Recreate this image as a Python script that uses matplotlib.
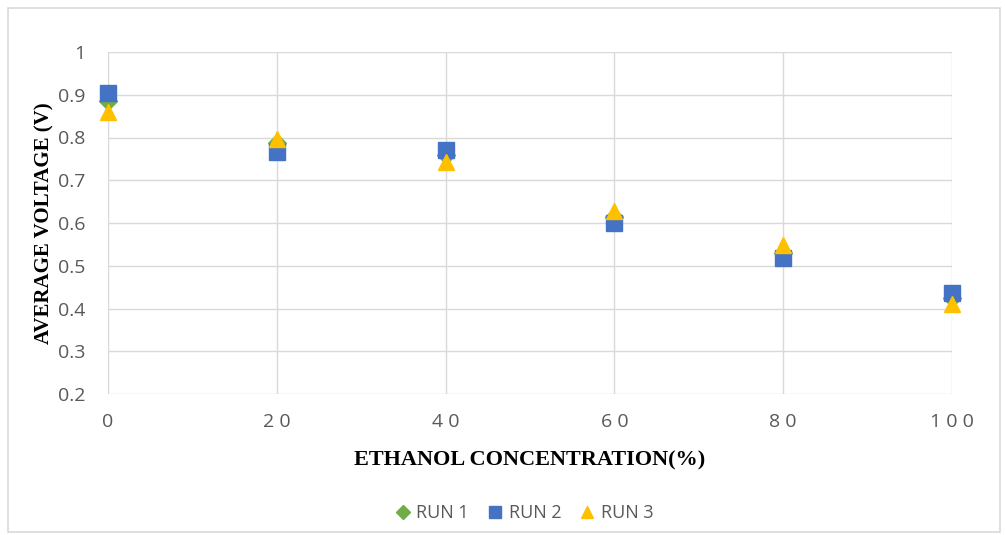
import numpy as np
import matplotlib.pyplot as plt
from matplotlib.patches import Rectangle

conc = [0, 20, 40, 60, 80, 100]
run1 = [0.885, 0.788, 0.760, 0.615, 0.530, 0.425]
run2 = [0.905, 0.767, 0.771, 0.600, 0.518, 0.437]
run3 = [0.860, 0.797, 0.742, 0.628, 0.548, 0.410]

xticks = [0, 20, 40, 60, 80, 100]
yticks = [0.2, 0.3, 0.4, 0.5, 0.6, 0.7, 0.8, 0.9, 1]

fig = plt.figure(figsize=(10.05, 5.35), dpi=100)
fig.patches.append(Rectangle((8 / 1005, 3 / 535), 992 / 1005, 524 / 535,
                             transform=fig.transFigure, fill=False,
                             edgecolor='#d9d9d9', linewidth=1.2))

ax = fig.add_axes([108 / 1005, 141 / 535, 844 / 1005, 342 / 535])
ax.plot(conc, run1, linestyle='none', marker='D', markersize=9,
        color='#70ad47', label='RUN 1', zorder=3, clip_on=False)
ax.plot(conc, run2, linestyle='none', marker='s', markersize=12,
        color='#4472c4', label='RUN 2', zorder=4, clip_on=False)
ax.plot(conc, run3, linestyle='none', marker='^', markersize=12,
        color='#ffc000', label='RUN 3', zorder=5, clip_on=False)

ax.set_xlim(0, 100)
ax.set_ylim(0.2, 1)
ax.set_xticks(xticks)
ax.set_xticklabels([' '.join(str(t)) for t in xticks])
ax.set_yticks(yticks)
ax.set_yticklabels([f'{t:g}' for t in yticks])
ax.grid(True, color='#d9d9d9', linewidth=1)
ax.set_axisbelow(True)
for s in ax.spines.values():
    s.set_visible(False)
ax.tick_params(length=0, labelsize=14, labelcolor='#595959')
ax.tick_params(axis='y', pad=16)
ax.tick_params(axis='x', pad=14)
for lab in ax.get_xticklabels() + ax.get_yticklabels():
    lab.set_family('Open Sans')

ax.set_xlabel('ETHANOL CONCENTRATION(%)', fontsize=16, fontweight='bold',
              family='Liberation Serif', labelpad=14)
ax.set_ylabel('AVERAGE VOLTAGE (V)', fontsize=15, fontweight='bold',
              family='Liberation Serif', labelpad=3)

fig.legend(loc='center', bbox_to_anchor=(524 / 1005, 1 - 513 / 535), ncol=3,
           frameon=False, handlelength=0.9, handletextpad=0.3, columnspacing=1.0,
           prop={'family': 'Open Sans', 'size': 13}, labelcolor='#595959',
           markerscale=0.75)

fig.savefig('out.png', dpi=100)
